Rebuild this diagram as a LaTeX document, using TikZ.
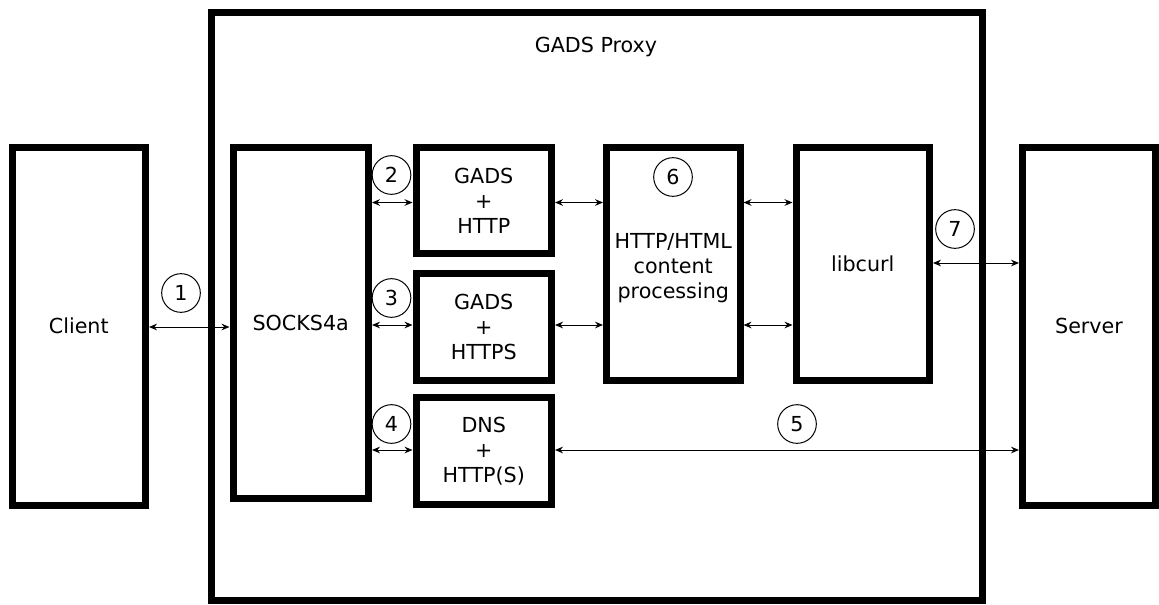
\documentclass[tikz,border=0pt]{standalone}
\usepackage{fontspec}
\setmainfont{DejaVu Sans}
\usetikzlibrary{arrows.meta}
\begin{document}
\begin{tikzpicture}[x=0.75pt,y=-0.75pt,
  blk/.style={draw, line width=5.25pt, inner sep=0pt, align=center,
    font=\fontsize{15.5}{18.75}\selectfont},
  lbl/.style={inner sep=0pt, align=center, font=\fontsize{15.5}{18.75}\selectfont},
  num/.style={draw, circle, line width=0.75pt, inner sep=0pt, minimum size=29pt,
    font=\fontsize{15.5}{18.75}\selectfont},
  link/.style={line width=0.75pt, {Stealth[length=6pt,width=5pt,inset=2pt]}-{Stealth[length=6pt,width=5pt,inset=2pt]}}]
\useasboundingbox (0,0) rectangle (1159,604);
% outer proxy box
\node[blk, minimum width={771*0.75pt}, minimum height={588*0.75pt}] (proxy) at (596.5,306.5) {};
\node[lbl] (proxylabel) at (596,47) {GADS Proxy};
% blocks
\node[blk, minimum width={133.5*0.75pt}, minimum height={358.5*0.75pt}] (client) at (78.75,326.25) {Client};
\node[blk, minimum width={135.5*0.75pt}, minimum height={351*0.75pt}] (socks) at (300.75,323) {SOCKS4a};
\node[blk, minimum width={135.5*0.75pt}, minimum height={106*0.75pt}] (b2) at (483.75,200.5) {GADS\\+\\HTTP};
\node[blk, minimum width={135.5*0.75pt}, minimum height={107*0.75pt}] (b3) at (483.75,326.5) {GADS\\+\\HTTPS};
\node[blk, minimum width={135.5*0.75pt}, minimum height={107*0.75pt}] (b4) at (483.75,451) {DNS\\+\\HTTP(S)};
\node[blk, minimum width={133.5*0.75pt}, minimum height={232.5*0.75pt}] (b6) at (673.25,263.75) {};
\node[lbl] (b6text) at (673.25,268) {HTTP/HTML\\content\\processing};
\node[blk, minimum width={133.5*0.75pt}, minimum height={232.5*0.75pt}] (lib) at (862.75,263.75) {libcurl};
\node[blk, minimum width={133*0.75pt}, minimum height={358.5*0.75pt}] (server) at (1089,326.25) {Server};
% levels
\coordinate (yc) at (0,327);
\coordinate (yA) at (0,202.5);
\coordinate (yB) at (0,325);
\coordinate (yC) at (0,450);
\coordinate (yD) at (0,263);
% connectors
\draw[link] (client.east |- yc) -- (socks.west |- yc);
\draw[link] (socks.east |- yA) -- (b2.west |- yA);
\draw[link] (socks.east |- yB) -- (b3.west |- yB);
\draw[link] (socks.east |- yC) -- (b4.west |- yC);
\draw[link] (b2.east |- yA) -- (b6.west |- yA);
\draw[link] (b3.east |- yB) -- (b6.west |- yB);
\draw[link] (b6.east |- yA) -- (lib.west |- yA);
\draw[link] (b6.east |- yB) -- (lib.west |- yB);
\draw[link] (lib.east |- yD) -- (server.west |- yD);
\draw[link] (b4.east |- yC) -- (server.west |- yC);
% numbers
\node[num] (n1) at (181,293) {1};
\node[num] (n2) at (391.5,175) {2};
\node[num] (n3) at (391.5,298) {3};
\node[num] (n4) at (391.5,424) {4};
\node[num] (n5) at (797,424) {5};
\node[num] (n6) at (673,177) {6};
\node[num] (n7) at (955,229) {7};
\end{tikzpicture}
\end{document}
